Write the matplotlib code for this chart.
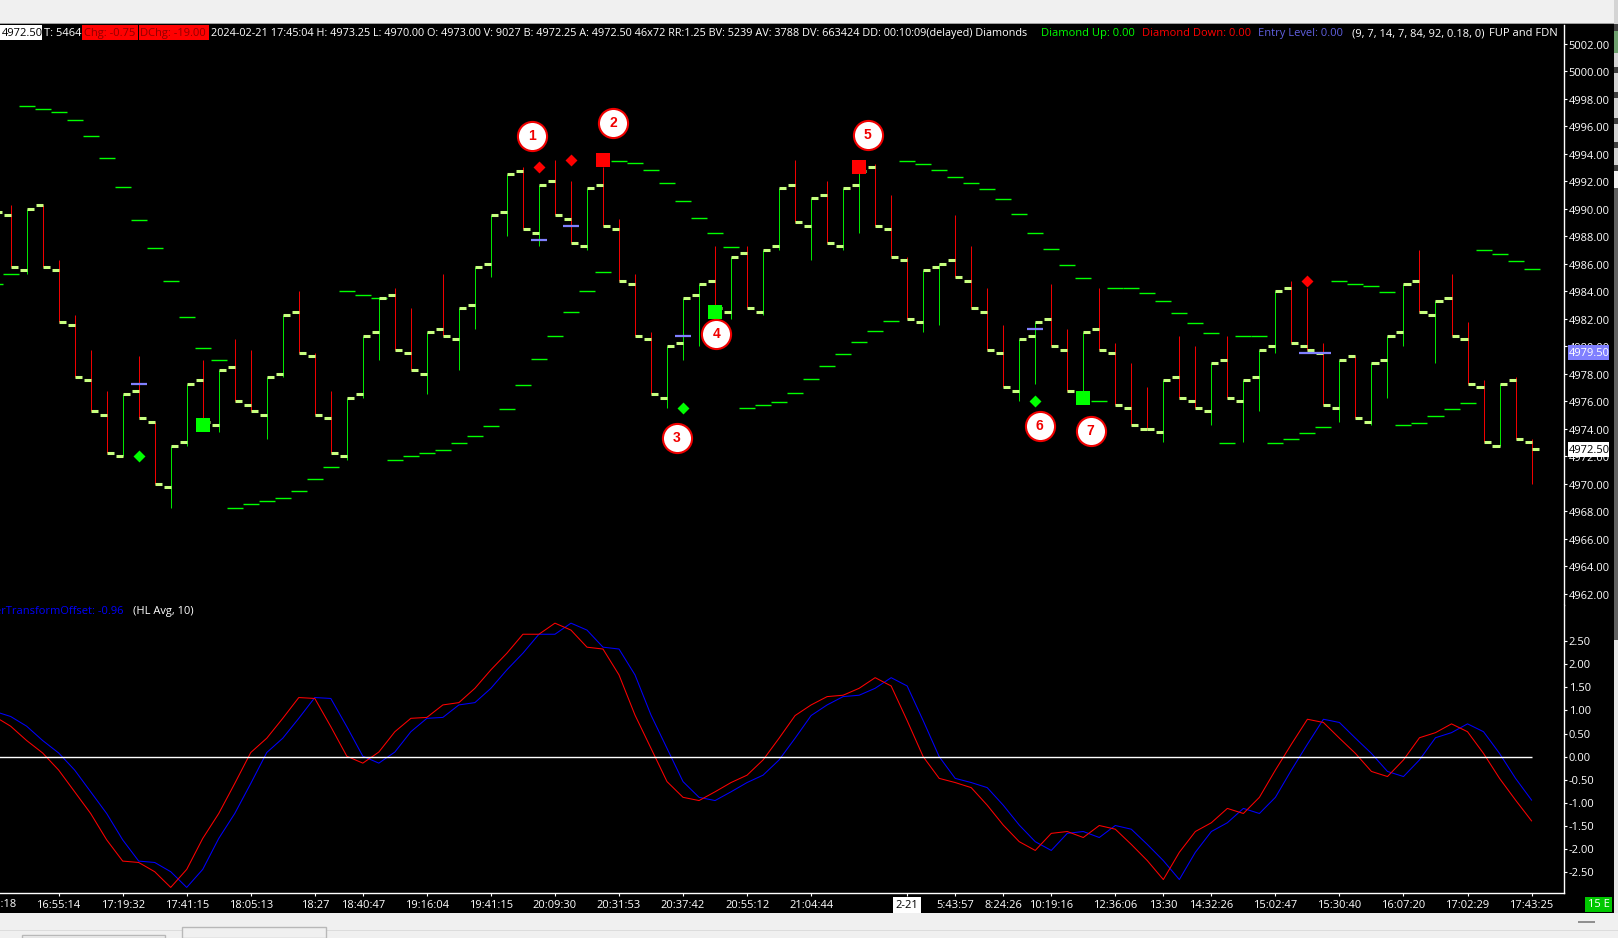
#!/usr/bin/env python3

import numpy as np
import matplotlib
matplotlib.use("Agg")
import matplotlib.pyplot as plt
from matplotlib.patches import Rectangle
from matplotlib.transforms import ScaledTranslation

plt.rcParams['font.family'] = ['Open Sans', 'DejaVu Sans']

# ohlc of the 97 bars on the price panel
opens = [4985.25, 4989.5, 4985.5, 4990.25, 4985.5, 4981.5, 4977.5, 4975.0, 4972.0, 4976.75,
         4974.5, 4969.75, 4973.0, 4977.5, 4974.25, 4978.5, 4975.75, 4975.0, 4978.0, 4982.5,
         4979.25, 4974.75, 4972.0, 4976.5, 4981.0, 4983.75, 4979.5, 4978.0, 4981.25, 4980.5,
         4983.0, 4986.0, 4989.75, 4992.75, 4988.25, 4992.0, 4989.25, 4987.25, 4991.75, 4988.5,
         4984.5, 4980.5, 4976.25, 4980.25, 4983.75, 4984.75, 4982.5, 4986.75, 4982.5, 4987.25,
         4991.75, 4988.75, 4991.0, 4987.25, 4991.75, 4993.0, 4988.5, 4986.25, 4981.75, 4985.75,
         4986.25, 4984.75, 4982.5, 4979.5, 4976.75, 4980.75, 4982.0, 4979.75, 4976.5, 4981.25,
         4979.5, 4975.5, 4974.0, 4973.75, 4977.75, 4976.0, 4975.25, 4979.0, 4976.0, 4977.75,
         4980.0, 4984.25, 4980.0, 4979.5, 4975.5, 4979.25, 4974.5, 4979.0, 4981.0, 4984.75,
         4982.25, 4983.5, 4980.5, 4977.0, 4972.75, 4977.5, 4973.0]
highs = [4989.75, 4990.25, 4990.0, 4990.25, 4986.25, 4982.25, 4979.75, 4976.75, 4976.5, 4979.25,
         4974.5, 4972.75, 4977.25, 4979.0, 4978.25, 4980.5, 4979.75, 4977.75, 4982.25, 4984.0,
         4979.5, 4976.75, 4976.25, 4980.75, 4983.5, 4984.25, 4982.75, 4981.0, 4985.25, 4982.75,
         4985.75, 4989.5, 4992.5, 4993.0, 4991.75, 4993.5, 4992.0, 4991.5, 4993.0, 4989.25,
         4985.25, 4981.0, 4980.0, 4983.5, 4984.5, 4987.25, 4986.5, 4987.25, 4987.0, 4991.5,
         4993.5, 4990.75, 4992.0, 4991.5, 4993.0, 4993.25, 4991.0, 4986.5, 4985.5, 4986.0,
         4989.5, 4987.25, 4984.25, 4981.5, 4980.5, 4981.75, 4984.5, 4981.25, 4981.0, 4984.25,
         4980.25, 4978.75, 4977.0, 4977.5, 4980.75, 4980.0, 4978.75, 4980.75, 4977.5, 4979.75,
         4984.0, 4984.75, 4984.25, 4980.25, 4979.0, 4979.25, 4978.75, 4980.75, 4984.5, 4987.0,
         4983.25, 4985.25, 4981.75, 4977.5, 4977.25, 4977.75, 4973.25]
lows = [4985.0, 4985.75, 4985.25, 4985.75, 4981.75, 4977.75, 4975.25, 4972.25, 4972.0, 4974.75,
        4970.0, 4968.25, 4972.75, 4974.5, 4973.75, 4976.0, 4975.25, 4973.25, 4977.75, 4979.5,
        4975.0, 4972.25, 4971.75, 4976.25, 4979.0, 4979.75, 4978.25, 4976.5, 4980.75, 4978.25,
        4981.25, 4985.0, 4988.0, 4988.5, 4987.25, 4989.5, 4987.5, 4987.0, 4988.75, 4984.75,
        4980.75, 4976.5, 4975.5, 4979.0, 4980.0, 4982.75, 4982.0, 4982.75, 4982.25, 4987.0,
        4989.0, 4986.25, 4987.5, 4987.0, 4988.25, 4988.75, 4986.5, 4982.0, 4981.0, 4981.5,
        4985.0, 4982.75, 4979.75, 4977.0, 4976.0, 4977.25, 4980.0, 4976.75, 4976.5, 4979.75,
        4975.75, 4974.25, 4974.0, 4973.0, 4976.25, 4975.5, 4974.25, 4976.25, 4973.0, 4975.25,
        4979.5, 4980.25, 4979.75, 4975.75, 4974.5, 4974.75, 4974.25, 4976.25, 4980.0, 4982.5,
        4978.75, 4980.75, 4977.25, 4973.0, 4972.75, 4973.25, 4970.0]
closes = [4989.75, 4985.75, 4990.0, 4985.75, 4981.75, 4977.75, 4975.25, 4972.25, 4976.5, 4974.75,
          4970.0, 4972.75, 4977.25, 4974.5, 4978.25, 4976.0, 4975.25, 4977.75, 4982.25, 4979.5,
          4975.0, 4972.25, 4976.25, 4980.75, 4983.5, 4979.75, 4978.25, 4981.0, 4980.75, 4982.75,
          4985.75, 4989.5, 4992.5, 4988.5, 4991.75, 4989.5, 4987.5, 4991.5, 4988.75, 4984.75,
          4980.75, 4976.5, 4980.0, 4983.5, 4984.5, 4982.75, 4986.5, 4982.75, 4987.0, 4991.5,
          4989.0, 4990.75, 4987.5, 4991.5, 4992.75, 4988.75, 4986.5, 4982.0, 4985.5, 4986.0,
          4985.0, 4982.75, 4979.75, 4977.0, 4980.5, 4981.75, 4980.0, 4976.75, 4981.0, 4979.75,
          4975.75, 4974.25, 4974.0, 4977.5, 4976.25, 4975.5, 4978.75, 4976.25, 4977.5, 4979.75,
          4984.0, 4980.25, 4979.75, 4975.75, 4979.0, 4974.75, 4978.75, 4980.75, 4984.5, 4982.5,
          4983.25, 4980.75, 4977.25, 4973.0, 4977.25, 4973.25, 4972.5]

# the green stepped trail, one dash per bar
trail = [4984.54, 4985.27, 4997.49, 4997.27, 4997.05, 4996.47, 4995.30, 4993.70, 4991.60, 4989.20,
         4987.16, 4984.76, 4982.14, 4979.89, 4979.02, 4968.25, 4968.54, 4968.76, 4968.98, 4969.49,
         4970.36, 4971.24, 4984.03, 4983.74, 4983.53, 4971.74, 4972.04, 4972.25, 4972.47, 4972.98,
         4973.49, 4974.22, 4975.45, 4977.20, 4979.09, 4980.76, 4982.51, 4984.03, 4985.41, 4993.49,
         4993.34, 4992.83, 4991.89, 4990.58, 4989.34, 4988.25, 4987.23, 4975.52, 4975.74, 4975.96,
         4976.62, 4977.64, 4978.58, 4979.45, 4980.33, 4981.13, 4981.85, 4993.49, 4993.27, 4992.83,
         4992.32, 4991.89, 4991.45, 4990.72, 4989.63, 4988.25, 4987.09, 4985.92, 4984.98, 4976.04,
         4984.25, 4984.25, 4983.89, 4983.31, 4982.44, 4981.71, 4980.98, 4972.98, 4980.76, 4980.76,
         4972.98, 4973.27, 4973.71, 4974.14, 4984.76, 4984.54, 4984.40, 4983.96, 4974.29, 4974.44,
         4974.94, 4975.45, 4975.89, 4987.01, 4986.72, 4986.21, 4985.63]

# oscillator in the lower panel
osc_red = [0.87, 0.66, 0.35, 0.08, -0.29, -0.76, -1.23, -1.80, -2.26, -2.29,
           -2.49, -2.83, -2.44, -1.77, -1.23, -0.58, 0.09, 0.40, 0.83, 1.28,
           1.26, 0.65, 0.01, -0.14, 0.10, 0.54, 0.83, 0.85, 1.12, 1.17,
           1.48, 1.88, 2.24, 2.65, 2.65, 2.89, 2.74, 2.37, 2.33, 1.77,
           0.90, 0.18, -0.54, -0.88, -0.95, -0.76, -0.56, -0.40, -0.07, 0.40,
           0.89, 1.12, 1.30, 1.33, 1.48, 1.71, 1.53, 0.78, 0.00, -0.47,
           -0.56, -0.67, -1.05, -1.48, -1.84, -2.03, -1.66, -1.62, -1.75, -1.49,
           -1.57, -1.90, -2.25, -2.66, -2.07, -1.62, -1.43, -1.12, -1.23, -0.88,
           -0.29, 0.27, 0.81, 0.74, 0.40, 0.07, -0.32, -0.43, -0.07, 0.41,
           0.52, 0.71, 0.54, 0.07, -0.47, -0.94, -1.39]
osc_blue = [0.98, 0.87, 0.66, 0.35, 0.08, -0.29, -0.76, -1.23, -1.80, -2.26,
            -2.29, -2.49, -2.83, -2.44, -1.77, -1.23, -0.58, 0.09, 0.40, 0.83,
            1.28, 1.26, 0.65, 0.01, -0.14, 0.10, 0.54, 0.83, 0.85, 1.12,
            1.17, 1.48, 1.88, 2.24, 2.65, 2.65, 2.89, 2.74, 2.37, 2.33,
            1.77, 0.90, 0.18, -0.54, -0.88, -0.95, -0.76, -0.56, -0.40, -0.07,
            0.40, 0.89, 1.12, 1.30, 1.33, 1.48, 1.71, 1.53, 0.78, 0.00,
            -0.47, -0.56, -0.67, -1.05, -1.48, -1.84, -2.03, -1.66, -1.62, -1.75,
            -1.49, -1.57, -1.90, -2.25, -2.66, -2.07, -1.62, -1.43, -1.12, -1.23,
            -0.88, -0.29, 0.27, 0.81, 0.74, 0.40, 0.07, -0.32, -0.43, -0.07,
            0.41, 0.52, 0.71, 0.54, 0.07, -0.47, -0.94]

# signals on the price panel
diamond_up_bars = [9, 43, 65]
diamond_up_prices = [4972.0, 4975.5, 4976.0]
diamond_down_bars = [34, 36, 82]
diamond_down_prices = [4993.0, 4993.5, 4984.75]
square_up_bars = [13, 45, 68]
square_up_prices = [4974.25, 4982.5, 4976.25]
square_down_bars = [38, 54]
square_down_prices = [4993.5, 4993.0]
entry_bars = [9, 34, 36, 43, 65, 82, 83]
entry_prices = [4977.25, 4987.75, 4988.75, 4980.75, 4981.25, 4979.5, 4979.5]

# numbered callouts
callout_labels = ['1', '2', '3', '4', '5', '6', '7']
callout_x = [33.58, 38.64, 42.62, 45.07, 54.53, 65.27, 68.46]
callout_y = [4995.26, 4996.2, 4973.3, 4980.86, 4995.33, 4974.17, 4973.8]

# axes
time_bars = [4, 8, 12, 16, 20, 23, 27, 31, 35, 39, 43, 47, 51, 57, 60, 63, 66,
             70, 73, 76, 80, 84, 88, 92, 96]
time_labels = ['16:55:14', '17:19:32', '17:41:15', '18:05:13', '18:27', '18:40:47',
               '19:16:04', '19:41:15', '20:09:30', '20:31:53', '20:37:42', '20:55:12',
               '21:04:44', '2-21', '5:43:57', '8:24:26', '10:19:16', '12:36:06', '13:30',
               '14:32:26', '15:02:47', '15:30:40', '16:07:20', '17:02:29', '17:43:25']
price_ticks = np.arange(4962, 5004, 2)
osc_ticks = np.arange(-2.5, 3.0, 0.5)

W, H = 1618, 938
FS = 8.0


def rect(x0, y0, x1, y1, color, z=0):
    # rectangle in pixels from the top left corner
    fig.add_artist(Rectangle((x0 / W, 1 - y1 / H), (x1 - x0) / W, (y1 - y0) / H,
                             transform=fig.transFigure, color=color, lw=0, zorder=z))


def label(x, y, s, color='white', **kw):
    kw.setdefault('fontsize', FS)
    fig.text(x / W, 1 - y / H, s, color=color, va='center', ha=kw.pop('ha', 'left'),
             zorder=6, **kw)


fig = plt.figure(figsize=(W / 100, H / 100), dpi=100, facecolor='black')

# window chrome around the chart
rect(0, 0, W, 23, '#f0f0f0')
rect(0, 23, 1614, 24.5, '#a0a0a0')
rect(0, 913, W, H, '#f0f0f0')
rect(0, 930, W, 931, '#dcdcdc')

# scroll strip on the right edge
rect(1614, 0, W, 170, '#d4d4d4')
for y0, y1 in [(24, 31), (67, 73), (92, 98), (118, 124), (142, 148), (165, 171)]:
    rect(1614, y0, W, y1, '#404040', 1)
rect(1614, 31, W, 53, '#6fa06f', 1)
rect(1614, 171, W, 188, '#f4f4f4')
rect(1614, 188, W, 640, '#606060')
rect(1614, 640, W, 913, '#e8e8e8')
rect(1578, 921, 1595, 923, '#909090')

# taskbar tabs at the very bottom
fig.add_artist(Rectangle((182 / W, 0), 144 / W, 11 / H, transform=fig.transFigure,
                         facecolor='#f0f0f0', edgecolor='#b8b8b8', lw=1))
fig.add_artist(Rectangle((22 / W, 0), 143 / W, 3 / H, transform=fig.transFigure,
                         facecolor='#f0f0f0', edgecolor='#b8b8b8', lw=1))

PX_BAR = 16.01
x_lim = (5.4 / PX_BAR, (1564 + 5.4) / PX_BAR)
ax = fig.add_axes([0, 1 - 605 / H, 1564 / W, 580 / H], facecolor='black')
ax2 = fig.add_axes([0, 1 - 893 / H, 1564 / W, 288 / H], facecolor='black')
ax.set_xlim(x_lim)
ax2.set_xlim(x_lim)
ax.set_ylim(5001.95 - (605 - 44.3) / 13.75, 5001.95 + (44.3 - 25) / 13.75)
ax2.set_ylim((756.67 - 893) / 46.2, (756.67 - 605) / 46.2)

bars = np.arange(len(closes))
o = np.array(opens)
c = np.array(closes)
colors = ['#00e600' if c[i] > o[i] else '#f00000' for i in bars]
ax.vlines(bars, lows, highs, colors=colors, lw=0.72, zorder=2)
ax.hlines(o, bars - 0.44, bars, colors='#c8ff80', lw=2.2, zorder=3, capstyle='butt')
ax.hlines(c, bars, bars + 0.44, colors='#c8ff80', lw=2.2, zorder=3, capstyle='butt')
ax.hlines(trail, bars - 0.5, bars + 0.5, colors='#00ff00', lw=1.0, zorder=2, capstyle='butt')

entry = np.array(entry_bars)
ax.hlines(entry_prices, entry - 0.5, entry + 0.5, colors='#8080ff', lw=1.6, zorder=4,
          capstyle='butt')
ax.scatter(diamond_up_bars, diamond_up_prices, marker='D', s=37, color='#00ff00', lw=0, zorder=5)
ax.scatter(diamond_down_bars, diamond_down_prices, marker='D', s=37, color='#ff0000', lw=0, zorder=5)
ax.scatter(square_up_bars, square_up_prices, marker='s', s=100, color='#00ff00', lw=0, zorder=5)
ax.scatter(square_down_bars, square_down_prices, marker='s', s=100, color='#ff0000', lw=0, zorder=5)

ax.scatter(callout_x, callout_y, marker='o', s=440, facecolor='white', edgecolor='#f00000',
           lw=1.5, zorder=7)
for cx, cy, t in zip(callout_x, callout_y, callout_labels):
    ax.text(cx, cy, t, color='#f00000', fontsize=10, fontweight='bold', family='Liberation Sans',
            ha='center', va='center', zorder=8)

ax2.plot(bars, osc_blue, color='#0000ff', lw=0.75, zorder=3)
ax2.plot(bars, osc_red, color='#ff0000', lw=0.75, zorder=4)
ax2.hlines(0, bars[0], bars[-1], color='white', lw=1.0, zorder=5)

# axis styling
for a in (ax, ax2):
    for s in ('top', 'left', 'bottom'):
        a.spines[s].set_visible(False)
    a.spines['right'].set_color('white')
    a.spines['right'].set_linewidth(1.0)
    a.yaxis.tick_right()
    a.tick_params(axis='y', colors='white', labelsize=FS, length=2.2, width=0.8, pad=1.2)
ax2.spines['bottom'].set_visible(True)
ax2.spines['bottom'].set_color('white')
ax2.spines['bottom'].set_linewidth(1.0)

ax.set_xticks([])
ax.set_yticks(price_ticks)
ax.set_yticklabels([f'{p:.2f}' for p in price_ticks])
# the price labels sit a pixel under their ticks
for t in ax.get_yticklabels():
    t.set_transform(t.get_transform() + ScaledTranslation(0, -1 / 100, fig.dpi_scale_trans))
ax2.set_yticks(osc_ticks)
ax2.set_yticklabels([f'{v:.2f}' for v in osc_ticks])
ax2.set_xticks(time_bars)
ax2.set_xticklabels(time_labels)
ax2.tick_params(axis='x', colors='white', labelsize=FS, length=2.2, width=0.8, pad=2.5)
ax2.get_xticklabels()[time_labels.index('2-21')].set(
    color='black', bbox=dict(facecolor='white', edgecolor='none', pad=2.0))
ax2.text(0, -0.0406, '16:31:18', color='white', fontsize=FS, ha='center', va='center',
         transform=ax2.get_xaxis_transform(), clip_on=False)

# last price and entry boxes on the price scale
rect(1568, 345, 1609, 360, '#8080ff', 5)
label(1568.5, 353, '4979.50')
rect(1568, 442, 1609, 457, 'white', 5)
label(1568.5, 450, '4972.50', 'black')
rect(1585, 897, 1612, 911.5, '#00c800', 5)
label(1598.5, 904.5, '15 E', ha='center')

# header row
HY = 33.5
rect(0, 25, 42, 40, 'white', 5)
rect(82, 25, 138, 40, '#ff0000', 5)
rect(139, 25, 209, 40, '#ff0000', 5)
label(2, HY, '4972.50', 'black')
label(44.4, HY, 'T: 5464')
label(84, HY, 'Chg: -0.75', '#900000')
label(140.5, HY, 'DChg: -19.00', '#900000')
label(211, HY, '2024-02-21 17:45:04 H: 4973.25 L: 4970.00 O: 4973.00 V: 9027 B: 4972.25 '
      'A: 4972.50 46x72 RR:1.25 BV: 5239 AV: 3788 DV: 663424 DD: 00:10:09(delayed) Diamonds',
      fontsize=7.85)
label(1041.4, HY, 'Diamond Up: 0.00', '#00ff00')
label(1142.1, HY, 'Diamond Down: 0.00', '#ff0000')
label(1257.8, HY, 'Entry Level: 0.00', '#6060e0')
label(1351.8, HY, '(9, 7, 14, 7, 84, 92, 0.18, 0)')
label(1488.7, HY, 'FUP and FDN')

label(124, 611.5, 'FisherTransformOffset: -0.96', '#0000ff', ha='right')
label(133, 611.5, '(HL Avg, 10)')

fig.savefig('out.png', dpi=100, facecolor='black')
